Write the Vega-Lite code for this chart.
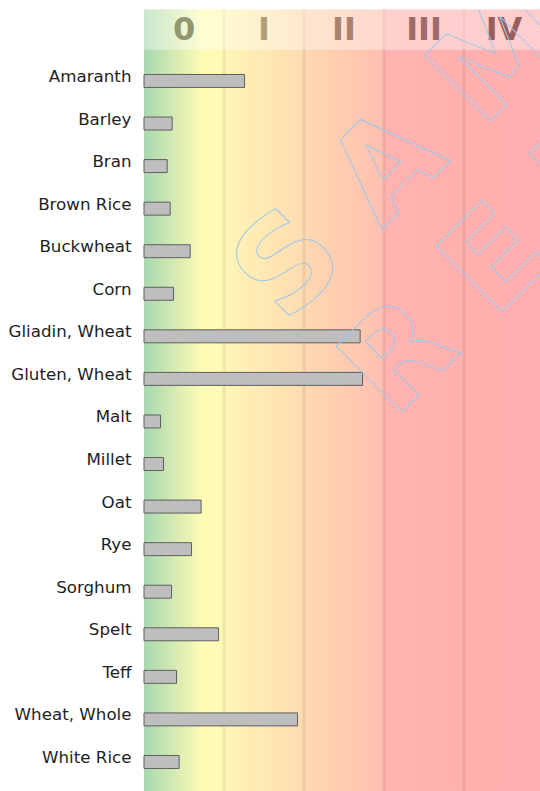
{
  "$schema": "https://vega.github.io/schema/vega-lite/v6.json",
  "background": "white",
  "padding": {"left": 8, "top": 7.5, "right": 0, "bottom": 0},
  "spacing": 0,
  "bounds": "flush",
  "config": {"view": {"stroke": null}},
  "datasets": {
    "bars": [
      {"food": "Amaranth", "v": 1.257},
      {"food": "Barley", "v": 0.352},
      {"food": "Bran", "v": 0.29},
      {"food": "Brown Rice", "v": 0.327},
      {"food": "Buckwheat", "v": 0.577},
      {"food": "Corn", "v": 0.369},
      {"food": "Gliadin, Wheat", "v": 2.702},
      {"food": "Gluten, Wheat", "v": 2.732},
      {"food": "Malt", "v": 0.207},
      {"food": "Millet", "v": 0.244},
      {"food": "Oat", "v": 0.714},
      {"food": "Rye", "v": 0.594},
      {"food": "Sorghum", "v": 0.344},
      {"food": "Spelt", "v": 0.932},
      {"food": "Teff", "v": 0.407},
      {"food": "Wheat, Whole", "v": 1.919},
      {"food": "White Rice", "v": 0.439}
    ],
    "classes": [
      {"c": "0", "mid": 0.5},
      {"c": "I", "mid": 1.5},
      {"c": "II", "mid": 2.5},
      {"c": "III", "mid": 3.5},
      {"c": "IV", "mid": 4.5}
    ],
    "bounds": [{"b": 1}, {"b": 2}, {"b": 3}, {"b": 4}],
    "one": [{}]
  },
  "vconcat": [
    {
      "width": 396,
      "height": 40,
      "layer": [
        {
          "data": {"name": "one"},
          "mark": {"type": "rect", "fill": {"gradient": "linear", "x1": 0, "x2": 1, "y1": 0, "y2": 0, "stops": [
            {"offset": 0, "color": "#a8d8b0"},
            {"offset": 0.15, "color": "#fffcb4"},
            {"offset": 0.2, "color": "#fffab4"},
            {"offset": 0.205, "color": "#fff5b6"},
            {"offset": 0.4, "color": "#fedcb0"},
            {"offset": 0.405, "color": "#ffd8b0"},
            {"offset": 0.6, "color": "#ffc0b0"},
            {"offset": 0.61, "color": "#ffb3b0"},
            {"offset": 1, "color": "#ffafaf"}
          ]}},
          "encoding": {
            "x": {"datum": 0, "type": "quantitative", "scale": {"domain": [0, 4.95], "nice": false, "zero": false}, "axis": null},
            "x2": {"datum": 4.95}
          }
        },
        {
          "data": {"name": "bounds"},
          "mark": {"type": "rule", "color": "#000000", "opacity": 0.065, "strokeWidth": 3},
          "encoding": {"x": {"field": "b", "type": "quantitative"}}
        },
        {
          "data": {"name": "one"},
          "mark": {"type": "rect", "fill": "#ffffff", "opacity": 0.38},
          "encoding": {"x": {"datum": 0, "type": "quantitative"}, "x2": {"datum": 4.95}}
        },
        {
          "data": {"name": "classes"},
          "mark": {"type": "text", "font": "DejaVu Sans", "fontWeight": "bold", "fontSize": 32, "baseline": "middle", "align": "center"},
          "encoding": {
            "x": {"field": "mid", "type": "quantitative"},
            "text": {"field": "c"},
            "color": {"field": "c", "type": "nominal", "legend": null, "scale": {"domain": ["0", "I", "II", "III", "IV"], "range": ["#8f9870", "#b0a078", "#a88070", "#9e6a6a", "#9a5e5e"]}}
          }
        },
        {
          "data": {"name": "one"},
          "mark": {"type": "text", "clip": true, "font": "DejaVu Sans", "fontWeight": "bold", "fontSize": 127, "angle": -45, "align": "left", "baseline": "alphabetic", "dx": -419, "fillOpacity": 0, "stroke": "#9cc8ee", "strokeWidth": 1},
          "encoding": {"x": {"datum": 5.47, "type": "quantitative"}, "text": {"value": "S A M P L E"}}
        }
      ]
    },
    {
      "width": 396,
      "height": 742,
      "layer": [
        {
          "data": {"name": "one"},
          "mark": {"type": "rect", "fill": {"gradient": "linear", "x1": 0, "x2": 1, "y1": 0, "y2": 0, "stops": [
            {"offset": 0, "color": "#a8d8b0"},
            {"offset": 0.15, "color": "#fffcb4"},
            {"offset": 0.2, "color": "#fffab4"},
            {"offset": 0.205, "color": "#fff5b6"},
            {"offset": 0.4, "color": "#fedcb0"},
            {"offset": 0.405, "color": "#ffd8b0"},
            {"offset": 0.6, "color": "#ffc0b0"},
            {"offset": 0.61, "color": "#ffb3b0"},
            {"offset": 1, "color": "#ffafaf"}
          ]}},
          "encoding": {
            "x": {"datum": 0, "type": "quantitative", "scale": {"domain": [0, 4.95], "nice": false, "zero": false}, "axis": null},
            "x2": {"datum": 4.95}
          }
        },
        {
          "data": {"name": "bounds"},
          "mark": {"type": "rule", "color": "#000000", "opacity": 0.065, "strokeWidth": 3},
          "encoding": {"x": {"field": "b", "type": "quantitative"}}
        },
        {
          "data": {"name": "bars"},
          "mark": {"type": "bar", "fill": "#bebebe", "stroke": "#5f5f5f", "strokeWidth": 1, "cornerRadius": 0},
          "encoding": {
            "y": {"field": "food", "type": "nominal", "scale": {"paddingInner": 0.695, "paddingOuter": 0.564, "align": 0.52},
              "axis": {"title": null, "ticks": false, "domain": false, "grid": false, "labelPadding": 13, "labelFont": "DejaVu Sans", "labelFontSize": 16.7, "labelColor": "#1e1e1e", "labelOffset": -4}},
            "x": {"field": "v", "type": "quantitative"}
          }
        },
        {
          "data": {"name": "one"},
          "mark": {"type": "text", "clip": true, "font": "DejaVu Sans", "fontWeight": "bold", "fontSize": 127, "angle": -45, "align": "left", "baseline": "alphabetic", "dx": 15, "fillOpacity": 0, "stroke": "#9cc8ee", "strokeWidth": 1},
          "encoding": {"x": {"datum": 1.634, "type": "quantitative"}, "y": {"datum": "Gliadin, Wheat", "type": "nominal"}, "text": {"value": "S A M P L E"}}
        },
        {
          "data": {"name": "one"},
          "mark": {"type": "text", "clip": true, "font": "DejaVu Sans", "fontWeight": "bold", "fontSize": 127, "angle": -45, "align": "left", "baseline": "alphabetic", "dx": 2, "fillOpacity": 0, "stroke": "#9cc8ee", "strokeWidth": 1},
          "encoding": {"x": {"datum": 3.1, "type": "quantitative"}, "y": {"datum": "Malt", "type": "nominal"}, "text": {"value": "R E P O R T"}}
        }
      ]
    }
  ]
}
